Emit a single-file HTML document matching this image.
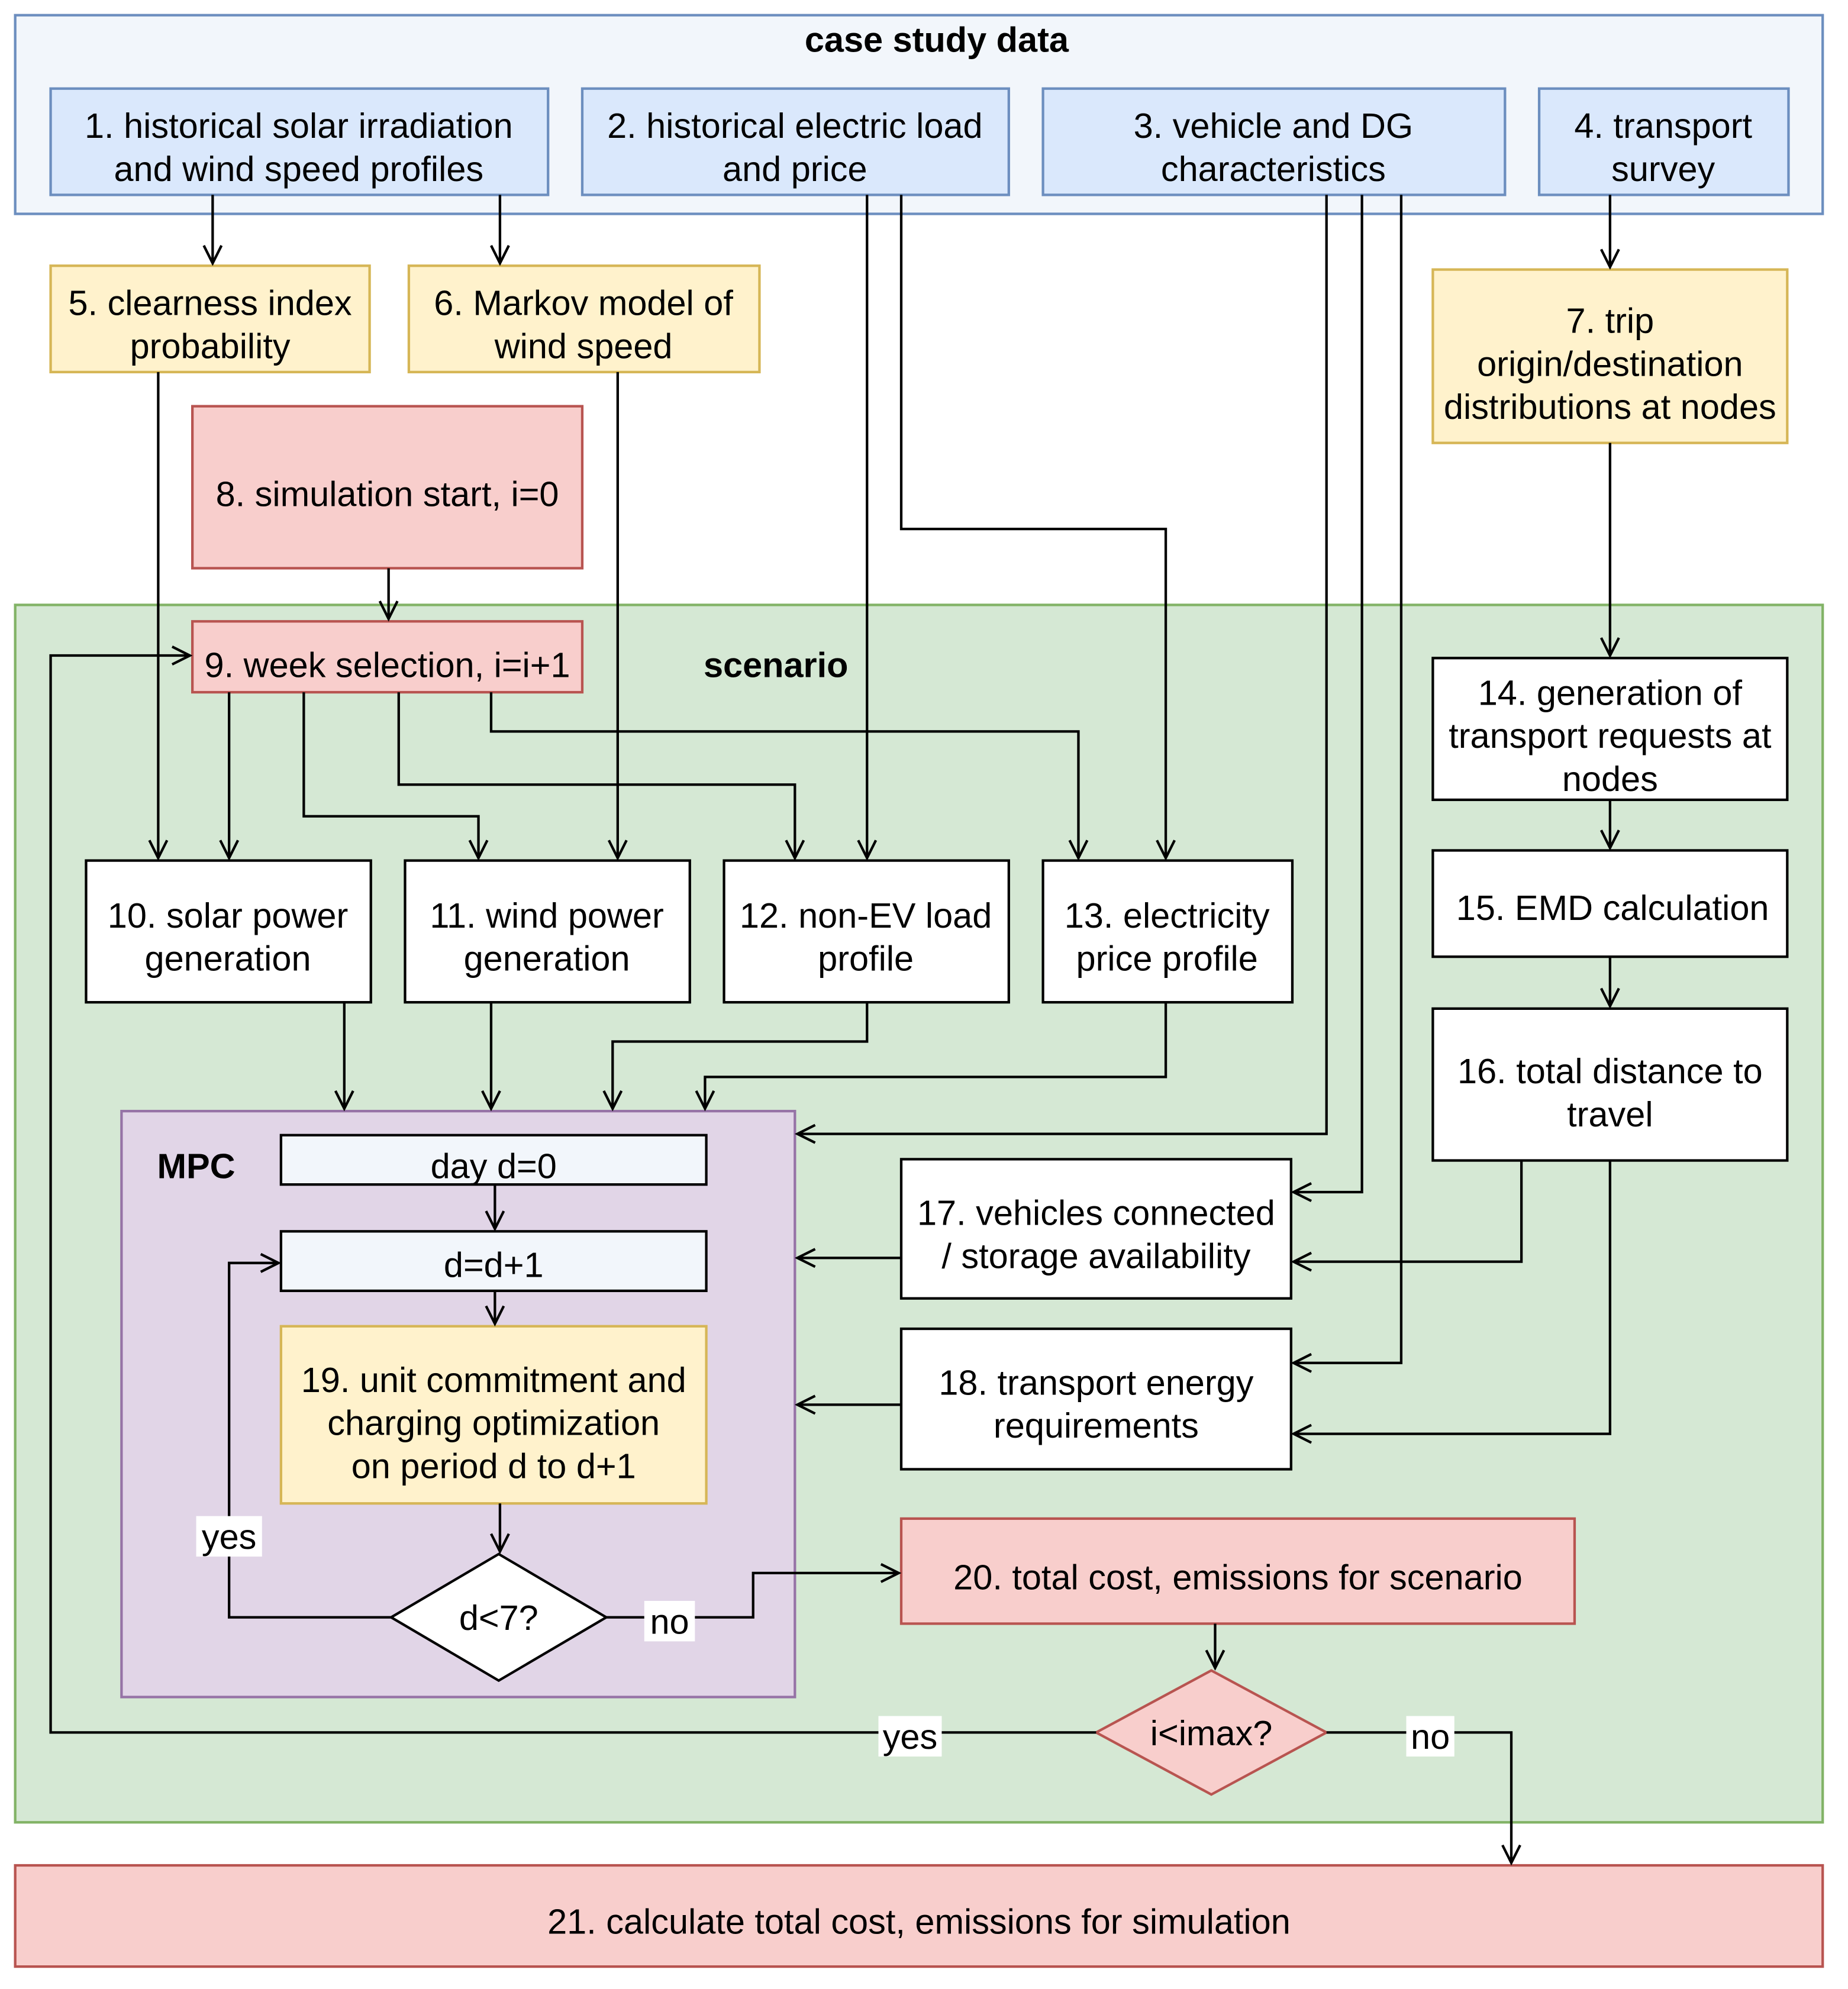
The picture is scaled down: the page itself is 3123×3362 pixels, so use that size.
<!DOCTYPE html>
<html><head><meta charset="utf-8"><style>
html,body{margin:0;padding:0;background:#fff}
svg{display:block}
text{font-family:"Liberation Sans",Helvetica,Arial,sans-serif;font-size:27.8px;fill:#000}
.b{font-weight:bold}
</style></head><body>
<svg width="3123" height="3362" viewBox="0 0 1460 1571.7" preserveAspectRatio="none" xmlns="http://www.w3.org/2000/svg">
<defs>
<marker id="a" markerUnits="userSpaceOnUse" markerWidth="20" markerHeight="20" viewBox="0 0 20 20" refX="18" refY="10" orient="auto">
<path d="M4,3 L18,10 L4,17" fill="none" stroke="#000" stroke-width="2"/>
</marker>
</defs>
<rect width="1460" height="1571.7" fill="#fff"/>
<rect x="12" y="12" width="1428" height="157" fill="#f2f6fb" stroke="#6c8ebf" stroke-width="2"/>
<text x="740" y="41" text-anchor="middle" class="b">case study data</text>
<g fill="#dae8fc" stroke="#6c8ebf" stroke-width="2">
<rect x="40" y="70" width="393" height="84"/>
<rect x="460" y="70" width="337" height="84"/>
<rect x="824" y="70" width="365" height="84"/>
<rect x="1216" y="70" width="197" height="84"/>
</g>
<text x="236" y="109" text-anchor="middle">1. historical solar irradiation</text>
<text x="236" y="143" text-anchor="middle">and wind speed profiles</text>
<text x="628" y="109" text-anchor="middle">2. historical electric load</text>
<text x="628" y="143" text-anchor="middle">and price</text>
<text x="1006" y="109" text-anchor="middle">3. vehicle and DG</text>
<text x="1006" y="143" text-anchor="middle">characteristics</text>
<text x="1314" y="109" text-anchor="middle">4. transport</text>
<text x="1314" y="143" text-anchor="middle">survey</text>
<g fill="#fff2cc" stroke="#d6b656" stroke-width="2">
<rect x="40" y="210" width="252" height="84"/>
<rect x="323" y="210" width="277" height="84"/>
<rect x="1132" y="213" width="280" height="137"/>
</g>
<text x="166" y="249" text-anchor="middle">5. clearness index</text>
<text x="166" y="283" text-anchor="middle">probability</text>
<text x="461" y="249" text-anchor="middle">6. Markov model of</text>
<text x="461" y="283" text-anchor="middle">wind speed</text>
<text x="1272" y="263" text-anchor="middle">7. trip</text>
<text x="1272" y="297" text-anchor="middle">origin/destination</text>
<text x="1272" y="331" text-anchor="middle">distributions at nodes</text>
<rect x="152" y="321" width="308" height="128" fill="#f8cecc" stroke="#b85450" stroke-width="2"/>
<text x="306" y="400" text-anchor="middle">8. simulation start, i=0</text>
<rect x="12" y="478" width="1428" height="962" fill="#d5e8d4" stroke="#82b366" stroke-width="2"/>
<text x="613" y="535" text-anchor="middle" class="b">scenario</text>
<rect x="152" y="491" width="308" height="56" fill="#f8cecc" stroke="#b85450" stroke-width="2"/>
<text x="306" y="535" text-anchor="middle">9. week selection, i=i+1</text>
<g fill="#fff" stroke="#000" stroke-width="2">
<rect x="68" y="680" width="225" height="112"/>
<rect x="320" y="680" width="225" height="112"/>
<rect x="572" y="680" width="225" height="112"/>
<rect x="824" y="680" width="197" height="112"/>
<rect x="1132" y="520" width="280" height="112"/>
<rect x="1132" y="672" width="280" height="84"/>
<rect x="1132" y="797" width="280" height="120"/>
</g>
<text x="180" y="733" text-anchor="middle">10. solar power</text>
<text x="180" y="767" text-anchor="middle">generation</text>
<text x="432" y="733" text-anchor="middle">11. wind power</text>
<text x="432" y="767" text-anchor="middle">generation</text>
<text x="684" y="733" text-anchor="middle">12. non-EV load</text>
<text x="684" y="767" text-anchor="middle">profile</text>
<text x="922" y="733" text-anchor="middle">13. electricity</text>
<text x="922" y="767" text-anchor="middle">price profile</text>
<text x="1272" y="557" text-anchor="middle">14. generation of</text>
<text x="1272" y="591" text-anchor="middle">transport requests at</text>
<text x="1272" y="625" text-anchor="middle">nodes</text>
<text x="1274" y="727" text-anchor="middle">15. EMD calculation</text>
<text x="1272" y="856" text-anchor="middle">16. total distance to</text>
<text x="1272" y="890" text-anchor="middle">travel</text>
<rect x="96" y="878" width="532" height="463" fill="#e1d5e7" stroke="#9673a6" stroke-width="2"/>
<text x="155" y="931" text-anchor="middle" class="b">MPC</text>
<rect x="222" y="897" width="336" height="39" fill="#f2f6fb" stroke="#000" stroke-width="2"/>
<text x="390" y="931" text-anchor="middle">day d=0</text>
<rect x="222" y="973" width="336" height="47" fill="#f2f6fb" stroke="#000" stroke-width="2"/>
<text x="390" y="1009" text-anchor="middle">d=d+1</text>
<rect x="222" y="1048" width="336" height="140" fill="#fff2cc" stroke="#d6b656" stroke-width="2"/>
<text x="390" y="1100" text-anchor="middle">19. unit commitment and</text>
<text x="390" y="1134" text-anchor="middle">charging optimization</text>
<text x="390" y="1168" text-anchor="middle">on period d to d+1</text>
<polygon points="394,1228 479,1278 394,1328 309,1278" fill="#fff" stroke="#000" stroke-width="2"/>
<text x="394" y="1288" text-anchor="middle">d&lt;7?</text>
<g fill="#fff" stroke="#000" stroke-width="2">
<rect x="712" y="916" width="308" height="110"/>
<rect x="712" y="1050" width="308" height="111"/>
</g>
<text x="866" y="968" text-anchor="middle">17. vehicles connected</text>
<text x="866" y="1002" text-anchor="middle">/ storage availability</text>
<text x="866" y="1102" text-anchor="middle">18. transport energy</text>
<text x="866" y="1136" text-anchor="middle">requirements</text>
<rect x="712" y="1200" width="532" height="83" fill="#f8cecc" stroke="#b85450" stroke-width="2"/>
<text x="978" y="1256" text-anchor="middle">20. total cost, emissions for scenario</text>
<polygon points="957,1320 1048,1369 957,1418 866,1369" fill="#f8cecc" stroke="#b85450" stroke-width="2"/>
<text x="957" y="1379" text-anchor="middle">i&lt;imax?</text>
<rect x="12" y="1474" width="1428" height="80" fill="#f8cecc" stroke="#b85450" stroke-width="2"/>
<text x="726" y="1528" text-anchor="middle">21. calculate total cost, emissions for simulation</text>
<g fill="none" stroke="#000" stroke-width="2" marker-end="url(#a)">
<path d="M168,154 V208"/>
<path d="M395,154 V208"/>
<path d="M1272,154 V211"/>
<path d="M1272,350 V518"/>
<path d="M685,154 V678"/>
<path d="M712,154 V418 H921 V678"/>
<path d="M1048,154 V896 H630"/>
<path d="M1076,154 V942 H1022"/>
<path d="M1107,154 V1077 H1022"/>
<path d="M125,294 V678"/>
<path d="M488,294 V678"/>
<path d="M307,449 V489"/>
<path d="M181,547 V678"/>
<path d="M240,547 V645 H378 V678"/>
<path d="M315,547 V620 H628 V678"/>
<path d="M388,547 V578 H852 V678"/>
<path d="M866,1369 H40 V518 H150"/>
<path d="M1048,1369 H1194 V1472"/>
<path d="M272,792 V876"/>
<path d="M388,792 V876"/>
<path d="M685,792 V823 H484 V876"/>
<path d="M921,792 V851 H557 V876"/>
<path d="M1272,632 V670"/>
<path d="M1272,756 V795"/>
<path d="M1202,917 V997 H1022"/>
<path d="M1272,917 V1133 H1022"/>
<path d="M712,994 H630"/>
<path d="M712,1110 H630"/>
<path d="M391,936 V971"/>
<path d="M391,1020 V1046"/>
<path d="M395,1188 V1226"/>
<path d="M309,1278 H181 V998 H220"/>
<path d="M479,1278 H595 V1243 H710"/>
<path d="M960,1283 V1318"/>
</g>
<rect x="155" y="1198" width="52" height="32" fill="#fff"/>
<text x="181" y="1224" text-anchor="middle">yes</text>
<rect x="509" y="1265" width="40" height="32" fill="#fff"/>
<text x="529" y="1291" text-anchor="middle">no</text>
<rect x="694" y="1356" width="50" height="32" fill="#fff"/>
<text x="719" y="1382" text-anchor="middle">yes</text>
<rect x="1111" y="1356" width="38" height="32" fill="#fff"/>
<text x="1130" y="1382" text-anchor="middle">no</text>
</svg>
</body></html>
